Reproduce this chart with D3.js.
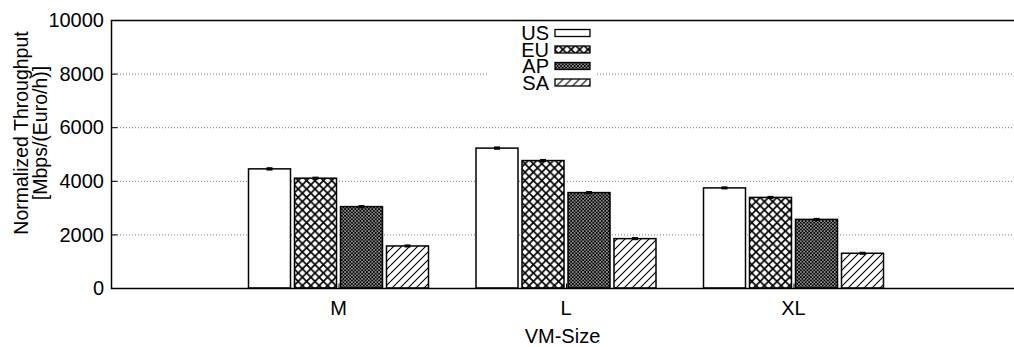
<!DOCTYPE html>
<html>
<head>
<meta charset="utf-8">
<script src="https://cdn.jsdelivr.net/npm/d3@7"></script>
<style>
  html, body { margin: 0; padding: 0; background: #fff; }
  svg { display: block; font-family: "Liberation Sans", Arial, Helvetica, sans-serif; }
</style>
</head>
<body>
<svg id="chart" width="1014" height="347"></svg>
<script>
// VM sizes on the x axis
const categories = ["M", "L", "XL"];
// Regions, one bar per region inside each VM-size group
const series = ["US", "EU", "AP", "SA"];
// Normalized throughput [Mbps/(Euro/h)] per region, in category order
const valuesUS = [4445, 5220, 3735];
const valuesEU = [4098, 4755, 3380];
const valuesAP = [3037, 3560, 2560];
const valuesSA = [1569, 1842, 1296];
// Error-bar half widths
const errorsUS = [25, 25, 20];
const errorsEU = [20, 20, 20];
const errorsAP = [20, 20, 20];
const errorsSA = [20, 20, 20];
// Y axis ticks
const yTicks = [0, 2000, 4000, 6000, 8000, 10000];

const valueTable = { US: valuesUS, EU: valuesEU, AP: valuesAP, SA: valuesSA };
const errorTable = { US: errorsUS, EU: errorsEU, AP: errorsAP, SA: errorsSA };

const svg = d3.select("#chart");
const plotLeft = 111, plotRight = 1021, plotTop = 20, plotBottom = 288;

// Fill patterns for each region
const defs = svg.append("defs");
function diagPattern(id, size, dirs, width) {
  const p = defs.append("pattern").attr("id", id)
    .attr("patternUnits", "userSpaceOnUse").attr("width", size).attr("height", size);
  p.append("rect").attr("width", size).attr("height", size).attr("fill", "#fff");
  if (dirs.includes("/")) {
    p.append("path").attr("d", `M0,${size} L${size},0 M${-size/2},${size/2} L${size/2},${-size/2} M${size/2},${size*1.5} L${size*1.5},${size/2}`)
      .attr("stroke", "#000").attr("stroke-width", width);
  }
  if (dirs.includes("\\")) {
    p.append("path").attr("d", `M0,0 L${size},${size} M${-size/2},${size/2} L${size/2},${size*1.5} M${size/2},${-size/2} L${size*1.5},${size/2}`)
      .attr("stroke", "#000").attr("stroke-width", width);
  }
}
diagPattern("pEU", 8.4, "/\\", 1.7);
diagPattern("pAP", 3.4, "/\\", 1.1);
diagPattern("pSA", 8, "/", 1.1);
const fills = { US: "#fff", EU: "url(#pEU)", AP: "url(#pAP)", SA: "url(#pSA)" };

// Scales
const x = d3.scalePoint().domain(["", ...categories, " "]).range([plotLeft, plotRight]);
const xInner = d3.scaleBand().domain(series).range([-92, 92])
  .paddingInner(0.087).paddingOuter(0.0435);
const y = d3.scaleLinear().domain([0, 10000]).range([plotBottom, plotTop]);

// Dotted grid lines
svg.append("g").selectAll("line")
  .data(yTicks.filter(t => t > 0 && t < 10000))
  .join("line")
  .attr("x1", plotLeft).attr("x2", plotRight)
  .attr("y1", d => y(d) + 0.5).attr("y2", d => y(d) + 0.5)
  .attr("stroke", "#777").attr("stroke-width", 1)
  .attr("stroke-dasharray", "1,2");

// Bars
const rows = [];
categories.forEach((c, i) => series.forEach(s => rows.push({ c, s, v: valueTable[s][i], e: errorTable[s][i] })));

const bars = svg.append("g");
bars.selectAll("rect")
  .data(rows)
  .join("rect")
  .attr("x", d => x(d.c) + xInner(d.s))
  .attr("y", d => y(d.v))
  .attr("width", xInner.bandwidth())
  .attr("height", d => y(0) - y(d.v))
  .attr("fill", d => fills[d.s])
  .attr("stroke", "#000").attr("stroke-width", 1.5);

// Error bars
const err = svg.append("g").attr("stroke", "#000");
err.selectAll("line.v")
  .data(rows).join("line").attr("class", "v")
  .attr("x1", d => x(d.c) + xInner(d.s) + xInner.bandwidth() / 2)
  .attr("x2", d => x(d.c) + xInner(d.s) + xInner.bandwidth() / 2)
  .attr("y1", d => y(d.v + d.e)).attr("y2", d => y(d.v - d.e))
  .attr("stroke-width", 1.5);
err.selectAll("line.cap")
  .data(rows.flatMap(d => [{ d, v: d.v + d.e }, { d, v: d.v - d.e }]))
  .join("line").attr("class", "cap")
  .attr("x1", o => x(o.d.c) + xInner(o.d.s) + xInner.bandwidth() / 2 - 3)
  .attr("x2", o => x(o.d.c) + xInner(o.d.s) + xInner.bandwidth() / 2 + 3)
  .attr("y1", o => y(o.v)).attr("y2", o => y(o.v))
  .attr("stroke-width", 2);

// Frame
svg.append("path")
  .attr("d", `M${plotRight},${plotTop + 0.5} H${plotLeft + 0.5} V${plotBottom + 0.5} H${plotRight}`)
  .attr("fill", "none").attr("stroke", "#000").attr("stroke-width", 1.5);

// Y axis: inward ticks, labels on the left
const yAxis = svg.append("g").attr("transform", `translate(${plotLeft + 0.5},0)`)
  .call(d3.axisRight(y).tickValues(yTicks).tickSize(6).tickFormat(""));
yAxis.select(".domain").remove();
yAxis.selectAll("line").attr("stroke", "#000");
svg.append("g").selectAll("text")
  .data(yTicks).join("text")
  .attr("x", 104).attr("y", d => y(d)).attr("dy", "0.36em")
  .attr("text-anchor", "end").attr("font-size", 20).attr("fill", "#000")
  .text(d => d);

// X axis: inward ticks at each category, labels below
const xAxis = svg.append("g").attr("transform", `translate(0,${plotBottom + 0.5})`)
  .call(d3.axisTop(x).tickValues(categories).tickSize(5).tickFormat(""));
xAxis.select(".domain").remove();
xAxis.selectAll("line").attr("stroke", "#000");
svg.append("g").selectAll("text")
  .data(categories).join("text")
  .attr("x", d => x(d)).attr("y", 315)
  .attr("text-anchor", "middle").attr("font-size", 20).attr("fill", "#000")
  .text(d => d);

// Axis titles
svg.append("text")
  .attr("x", (plotLeft + 1014) / 2).attr("y", 343)
  .attr("text-anchor", "middle").attr("font-size", 20).attr("fill", "#000")
  .text("VM-Size");
const yt = svg.append("text")
  .attr("transform", "translate(0,133) rotate(-90)")
  .attr("text-anchor", "middle").attr("font-size", 19.5).attr("fill", "#000");
yt.append("tspan").attr("x", 0).attr("y", 28).text("Normalized Throughput");
yt.append("tspan").attr("x", 0).attr("y", 47).text("[Mbps/(Euro/h)]");

// Legend with opaque background
const legend = svg.append("g");
legend.append("rect").attr("x", 488).attr("y", 22).attr("width", 107).attr("height", 70).attr("fill", "#fff");
const rowY = [33, 49.5, 66, 82.5];
const items = legend.selectAll("g.item").data(series).join("g").attr("class", "item")
  .attr("transform", (d, i) => `translate(0,${rowY[i]})`);
items.append("text")
  .attr("x", 549).attr("y", 0).attr("dy", "0.36em")
  .attr("text-anchor", "end").attr("font-size", 20).attr("fill", "#000")
  .text(d => d);
items.append("rect")
  .attr("x", 555).attr("y", -3.5).attr("width", 35).attr("height", 7)
  .attr("fill", d => fills[d]).attr("stroke", "#000").attr("stroke-width", 1.3);
</script>
</body>
</html>
